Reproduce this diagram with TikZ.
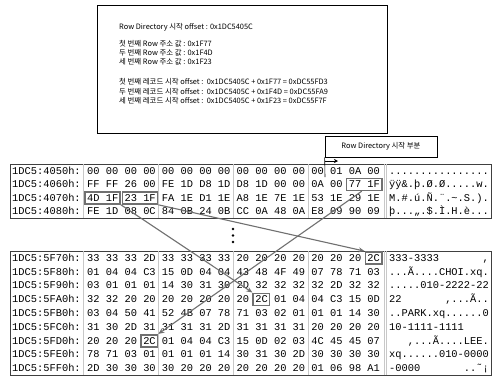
\documentclass[tikz,border=0pt]{standalone}
\usepackage{fontspec}
\setmonofont{Liberation Mono}
\newfontfamily\krfont{Noto Sans CJK KR}
\usetikzlibrary{arrows.meta,calc}
\definecolor{hlgray}{HTML}{707070}
\definecolor{sepgray}{HTML}{C8C8C8}
\definecolor{framegray}{HTML}{404040}
\tikzset{
  mono/.style={font=\fontsize{10.38}{12}\selectfont\ttfamily, inner sep=0pt, anchor=base west},
  krtext/.style={font=\fontsize{7.4}{9}\selectfont\krfont, inner sep=0pt, anchor=base west},
  hl/.style={draw=hlgray, line width=1.6pt, minimum height=12pt, inner sep=0pt},
  arr/.style={draw=hlgray, line width=1.1pt, -{Stealth[length=6pt,width=5pt]}},
  sep/.style={draw=sepgray, line width=0.6pt},
  tabframe/.style={draw=framegray, line width=0.8pt, inner sep=0pt},
}
\begin{document}
\begin{tikzpicture}[x=1pt,y=-1pt]
\useasboundingbox (0,0) rectangle (494,376);
\fill[white] (0,0) rectangle (494,376);

% info box
\node[draw=black, line width=0.8pt, minimum width=290pt, minimum height=128pt, inner sep=0pt] (infobox) at (242,69) {};
\node[krtext] (t1) at (119,29) {Row Directory 시작 offset : 0x1DC5405C};
\node[krtext] (t2) at (119,46) {첫 번째 Row 주소 값 : 0x1F77};
\node[krtext] (t3) at (119,55) {두 번째 Row 주소 값 : 0x1F4D};
\node[krtext] (t4) at (119,64) {세 번째 Row 주소 값 : 0x1F23};
\node[krtext] (t5) at (119,84) {첫 번째 레코드 시작 offset :\ \ 0x1DC5405C + 0x1F77 = 0xDC55FD3};
\node[krtext] (t6) at (119,94) {두 번째 레코드 시작 offset :\ \ 0x1DC5405C + 0x1F4D = 0xDC55FA9};
\node[krtext] (t7) at (119,103) {세 번째 레코드 시작 offset :\ \ 0x1DC5405C + 0x1F23 = 0xDC55F7F};

% label box
\node[draw=black, line width=0.7pt, minimum width=112pt, minimum height=21pt, inner sep=0pt,
      font=\fontsize{7.4}{9}\selectfont\krfont] (lbl) at (381,146.5) {Row Directory 시작 부분};

% top table
\node[tabframe, minimum width=481pt, minimum height=54.4pt] (toptab) at (250.5,191.2) {};
\draw[sep] (83,164) -- (83,218.4);
\draw[sep] (158.6,164) -- (158.6,218.4);
\draw[sep] (233.4,164) -- (233.4,218.4);
\draw[sep] (308.2,164) -- (308.2,218.4);
\draw[sep] (384,164) -- (384,218.4);
\draw[sep] (386.5,164) -- (386.5,218.4);

\node[mono] (a1) at (12,174.1) {1DC5:4050h:};
\node[mono] (h1) at (87,174.1) {00 00 00 00 00 00 00 00 00 00 00 00 00 01 0A 00};
\node[mono] (s1) at (389,174.1) {................};
\node[mono] (a2) at (12,187.7) {1DC5:4060h:};
\node[mono] (h2) at (87,187.7) {FF FF 26 00 FE 1D D8 1D D8 1D 00 00 0A 00 77 1F};
\node[mono] (s2) at (389,187.7) {ÿÿ\&.þ.Ø.Ø.....w.};
\node[mono] (a3) at (12,201.3) {1DC5:4070h:};
\node[mono] (h3) at (87,201.3) {4D 1F 23 1F FA 1E D1 1E A8 1E 7E 1E 53 1E 29 1E};
\node[mono] (s3) at (389,201.3) {M.\#.ú.Ñ.¨.\textasciitilde.S.).};
\node[mono] (a4) at (12,214.9) {1DC5:4080h:};
\node[mono] (h4) at (87,214.9) {FE 1D 08 0C 84 0B 24 0B CC 0A 48 0A E8 09 90 09};
\node[mono] (s4) at (389,214.9) {þ...„.\$.Ì.H.è...};

% row directory marker
\coordinate (mkbot) at (325,177);
\coordinate (mka) at (325,161);
\coordinate (mkb) at (338,161);
\draw[line width=0.6pt, black] (lbl.south west) -- (mkbot);
\draw[line width=0.6pt, black, -{Stealth[length=4pt,width=4pt]}] (mka) -- (mkb);

% ellipsis
\fill[black] (233,229) circle (1.4) (233,235.5) circle (1.4) (233,242) circle (1.4);

% bottom table
\node[tabframe, minimum width=481pt, minimum height=124.2pt] (bottab) at (250.5,313.1) {};
\draw[sep] (83,251) -- (83,375.2);
\draw[sep] (158.6,251) -- (158.6,375.2);
\draw[sep] (233.4,251) -- (233.4,375.2);
\draw[sep] (308.2,251) -- (308.2,375.2);
\draw[sep] (384,251) -- (384,375.2);
\draw[sep] (386.5,251) -- (386.5,375.2);

\node[mono] (b1) at (12,261.2) {1DC5:5F70h:};
\node[mono] (g1) at (87,261.2) {33 33 33 2D 33 33 33 33 20 20 20 20 20 20 20 2C};
\node[mono] (r1) at (389,261.2) {333-3333~~~~~~~,};
\node[mono] (b2) at (12,275.0) {1DC5:5F80h:};
\node[mono] (g2) at (87,275.0) {01 04 04 C3 15 0D 04 04 43 48 4F 49 07 78 71 03};
\node[mono] (r2) at (389,275.0) {...Ã....CHOI.xq.};
\node[mono] (b3) at (12,288.8) {1DC5:5F90h:};
\node[mono] (g3) at (87,288.8) {03 01 01 01 14 30 31 30 2D 32 32 32 32 2D 32 32};
\node[mono] (r3) at (389,288.8) {.....010-2222-22};
\node[mono] (b4) at (12,302.6) {1DC5:5FA0h:};
\node[mono] (g4) at (87,302.6) {32 32 20 20 20 20 20 20 20 2C 01 04 04 C3 15 0D};
\node[mono] (r4) at (389,302.6) {22~~~~~~~,...Ã..};
\node[mono] (b5) at (12,316.4) {1DC5:5FB0h:};
\node[mono] (g5) at (87,316.4) {03 04 50 41 52 4B 07 78 71 03 02 01 01 01 14 30};
\node[mono] (r5) at (389,316.4) {..PARK.xq......0};
\node[mono] (b6) at (12,330.2) {1DC5:5FC0h:};
\node[mono] (g6) at (87,330.2) {31 30 2D 31 31 31 31 2D 31 31 31 31 20 20 20 20};
\node[mono] (r6) at (389,330.2) {10-1111-1111};
\node[mono] (b7) at (12,344.0) {1DC5:5FD0h:};
\node[mono] (g7) at (87,344.0) {20 20 20 2C 01 04 04 C3 15 0D 02 03 4C 45 45 07};
\node[mono] (r7) at (389,344.0) {~~~,...Ã....LEE.};
\node[mono] (b8) at (12,357.8) {1DC5:5FE0h:};
\node[mono] (g8) at (87,357.8) {78 71 03 01 01 01 01 14 30 31 30 2D 30 30 30 30};
\node[mono] (r8) at (389,357.8) {xq......010-0000};
\node[mono] (b9) at (12,371.6) {1DC5:5FF0h:};
\node[mono] (g9) at (87,371.6) {2D 30 30 30 30 20 20 20 20 20 20 20 01 06 98 A1};
\node[mono] (r9) at (389,371.6) {-0000~~~~~~~..˜¡};

% highlight boxes
\node[hl, minimum width=35.1pt] (b771f) at (364.2,184.4) {};
\node[hl, minimum width=35.1pt] (b4d1f) at (102.6,198.0) {};
\node[hl, minimum width=35.1pt] (b231f) at (140.0,198.0) {};
\node[hl, minimum width=16.5pt] (b5f7f) at (373.6,257.9) {};
\node[hl, minimum width=16.5pt] (b5fa9) at (261.4,299.3) {};
\node[hl, minimum width=16.5pt] (b5fd3) at (149.3,340.7) {};

% arrows
\draw[arr] (b771f.250) -- (b5fd3.north east);
\draw[arr] (b4d1f.south east) -- (b5fa9.north west);
\draw[arr] (b231f.south east) -- (b5f7f.north west);
\end{tikzpicture}
\end{document}
